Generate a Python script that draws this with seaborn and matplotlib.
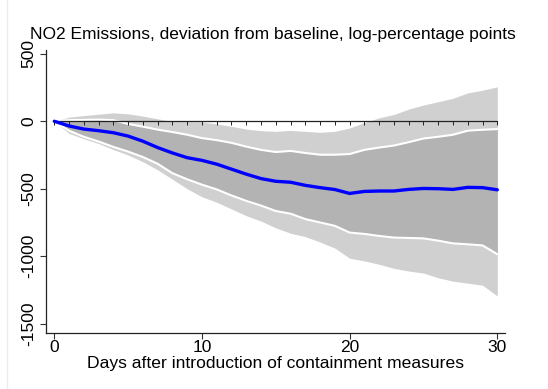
import matplotlib
matplotlib.use("Agg")
import matplotlib.pyplot as plt
from matplotlib.lines import Line2D
import numpy as np
import pandas as pd
import seaborn as sns

# Days since containment measures were introduced
days = list(range(31))

# Point estimate of the NO2 deviation (log-percentage points)
estimate = [0, -35, -58, -70, -85, -110, -148, -195, -235, -270, -290,
            -318, -355, -392, -425, -445, -452, -475, -492, -506, -535,
            -520, -517, -517, -505, -498, -500, -505, -490, -492, -508]

# Inner confidence band
inner_upper = [0, 8, 10, 12, 8, -20, -40, -62, -80, -100, -125,
               -140, -160, -188, -212, -228, -220, -235, -248, -248, -243,
               -212, -195, -180, -155, -128, -115, -100, -70, -63, -58]
inner_lower = [0, -70, -115, -150, -190, -225, -265, -315, -385, -430, -470,
               -505, -550, -590, -625, -665, -685, -725, -750, -775, -825,
               -835, -850, -862, -865, -868, -885, -905, -912, -920, -985]

# Outer confidence band
outer_upper = [0, 30, 42, 52, 62, 55, 38, 18, -2, -3, -5,
               -20, -38, -58, -70, -75, -68, -75, -82, -75, -50,
               -10, 25, 50, 90, 120, 145, 170, 210, 230, 255]
outer_lower = [0, -90, -130, -165, -210, -250, -300, -360, -430, -500, -560,
               -600, -650, -700, -740, -790, -830, -855, -895, -940, -1015,
               -1035, -1060, -1090, -1110, -1125, -1160, -1185, -1200, -1215, -1295]

y_ticks = [-1500, -1000, -500, 0, 500]
x_ticks = [0, 10, 20, 30]

df = pd.DataFrame({
    "day": days,
    "estimate": estimate,
    "inner_upper": inner_upper,
    "inner_lower": inner_lower,
    "outer_upper": outer_upper,
    "outer_lower": outer_lower,
})

sns.set_style("ticks")
plt.rcParams["font.family"] = ["Liberation Sans", "DejaVu Sans"]
plt.rcParams["text.color"] = "black"
plt.rcParams["axes.labelcolor"] = "black"

fig = plt.figure(figsize=(5.48, 3.89), dpi=100)
ax = fig.add_axes([0.0834, 0.1447, 0.8381, 0.7268])

ax.fill_between(df["day"], df["outer_lower"], df["outer_upper"],
                color="#d0d0d0", linewidth=0, zorder=1)
ax.fill_between(df["day"], df["inner_lower"], df["inner_upper"],
                color="#b3b3b3", linewidth=0, zorder=2)
sns.lineplot(data=df, x="day", y="inner_upper", color="white", linewidth=1.5,
             ax=ax, zorder=3)
sns.lineplot(data=df, x="day", y="inner_lower", color="white", linewidth=1.5,
             ax=ax, zorder=3)

# Zero reference line with a small tick at every day
ax.plot(df["day"], np.zeros(len(days)), color="#222222", linewidth=0.9,
        marker=3, markersize=3, markeredgewidth=0.7, zorder=4)

sns.lineplot(data=df, x="day", y="estimate", color="#0000ff", linewidth=2.4,
             ax=ax, zorder=5)

ax.set_xlim(-0.58, 30.52)
ax.set_ylim(-1567, 528)
ax.set_xticks(x_ticks)
ax.set_yticks(y_ticks)
ax.set_yticklabels([str(v) for v in y_ticks], rotation=90, va="center")
ax.tick_params(axis="both", labelsize=12.5, length=4.5, width=0.8,
               color="#333333", labelcolor="black")
ax.tick_params(axis="y", pad=2.5)
ax.tick_params(axis="x", pad=0.5)
ax.set_xlabel("Days after introduction of containment measures",
              fontsize=12.6, labelpad=1)
ax.set_ylabel("")

sns.despine(ax=ax)
for side in ("left", "bottom"):
    ax.spines[side].set_color("#222222")
    ax.spines[side].set_linewidth(0.9)

fig.text(30 / 548, 1 - 34 / 389,
         "NO2 Emissions, deviation from baseline, log-percentage points",
         ha="left", va="center", fontsize=12.5, color="black")

# Faint outer border of the graph region
fig.add_artist(Line2D([7 / 548, 7 / 548], [0, 1], transform=fig.transFigure,
                      color="#e6eef1", linewidth=1.0))

fig.savefig("out.png", dpi=100)
